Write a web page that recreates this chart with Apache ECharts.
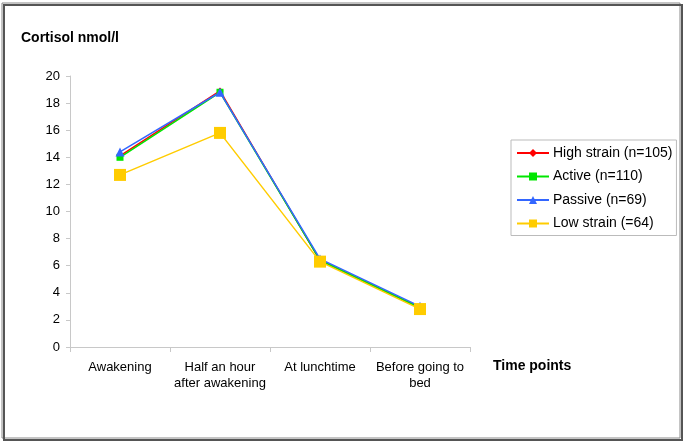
<!DOCTYPE html>
<html><head><meta charset="utf-8">
<script src="https://cdn.jsdelivr.net/npm/echarts@6/dist/echarts.min.js"></script>
<style>html,body{margin:0;padding:0;background:#fff}#c{width:685px;height:443px}</style>
</head><body><div id="c"></div>
<script>
const categories = ['Awakening', 'Half an hour\nafter awakening', 'At lunchtime', 'Before going to\nbed'];
const highStrain = [14.1, 18.9, 6.4, 2.9];
const active = [14.0, 18.8, 6.4, 2.9];
const passive = [14.4, 18.8, 6.5, 3.0];
const lowStrain = [12.7, 15.8, 6.3, 2.8];
const seriesNames = ['High strain (n=105)', 'Active (n=110)', 'Passive (n=69)', 'Low strain (=64)'];
const yTicks = [0, 20, 2];

const chart = echarts.init(document.getElementById('c'));
const font = 'Liberation Sans, Arial, sans-serif';
function mk(name, data, color, symbol, size) {
  return {
    name, type: 'line', data, symbol, symbolSize: size,
    itemStyle: { color }, lineStyle: { color, width: 1.5 },
    emphasis: { disabled: true }, z: 3
  };
}
chart.setOption({
  animation: false,
  textStyle: { fontFamily: font },
  grid: { left: 70, right: 215, top: 76, bottom: 96 },
  graphic: [
    { type: 'rect', shape: { x: 4, y: 5, width: 678, height: 435 }, style: { fill: 'none', stroke: '#555', lineWidth: 2 } },
    { type: 'rect', shape: { x: 2, y: 3, width: 678, height: 435 }, style: { fill: '#fff', stroke: '#888', lineWidth: 1 }, z: -1 },
    { type: 'text', left: 21, top: 31, style: { text: 'Cortisol nmol/l', font: 'bold 14px ' + font, fill: '#000' } },
    { type: 'text', left: 493, top: 359, style: { text: 'Time points', font: 'bold 14px ' + font, fill: '#000' } }
  ],
  legend: {
    orient: 'vertical', left: 511, top: 140,
    padding: [6, 4, 5, 5],
    borderColor: '#bbb', borderWidth: 1,
    itemWidth: 32, itemHeight: 10, itemGap: 9.5,
    textStyle: { fontSize: 14, color: '#000', fontFamily: font, padding: [0, 0, 0, -1] },
    data: seriesNames
  },
  xAxis: {
    type: 'category', data: categories, boundaryGap: true,
    axisLine: { lineStyle: { color: '#c8c8c8' } },
    axisTick: { show: true, alignWithLabel: false, length: 5, lineStyle: { color: '#c8c8c8' } },
    axisLabel: { color: '#000', fontSize: 13, margin: 12, lineHeight: 16, interval: 0 }
  },
  yAxis: {
    type: 'value', min: yTicks[0], max: yTicks[1], interval: yTicks[2],
    axisLine: { show: true, lineStyle: { color: '#c8c8c8' } },
    axisTick: { show: true, length: 4, lineStyle: { color: '#c8c8c8' } },
    splitLine: { show: false },
    axisLabel: { color: '#000', fontSize: 13, margin: 10 }
  },
  series: [
    mk(seriesNames[0], highStrain, '#ff0000', 'diamond', 7),
    mk(seriesNames[1], active, '#00e600', 'rect', 7),
    mk(seriesNames[2], passive, '#3366ff', 'triangle', 9),
    mk(seriesNames[3], lowStrain, '#ffcc00', 'rect', 12)
  ]
});
</script></body></html>
